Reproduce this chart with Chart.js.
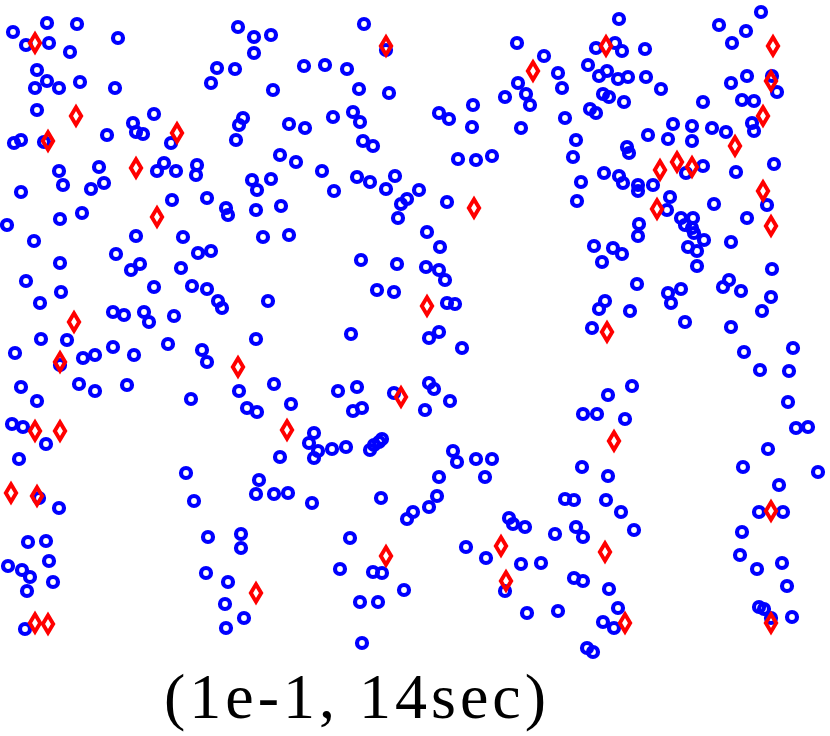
<!DOCTYPE html>
<html>
<head>
<meta charset="utf-8">
<script src="https://cdn.jsdelivr.net/npm/chart.js@4"></script>
<style>
  body { margin: 0; background: #fff; }
  #wrap { position: relative; width: 830px; height: 736px; }
  #caption {
    position: absolute; left: 357px; top: 665px; transform: translateX(-50%);
    font-family: "Liberation Serif", serif; font-size: 64px; line-height: 1;
    letter-spacing: 4px; white-space: nowrap; color: #000;
  }
</style>
</head>
<body>
<div id="wrap">
  <canvas id="chart"></canvas>
  <div id="caption">(1e-1, 14sec)</div>
</div>
<script>
// marker positions (x right, y down)
const circlePts = [
  [13,32],[47,23],[77,24],[26,45],[49,43],[118,38],[70,52],[37,70],[47,81],[35,88],[59,88],[80,82],[115,88],[37,110],[154,114],[133,123],[136,132],[143,134],[21,140],[14,143],[44,142],[107,135],[171,143],[59,171],[99,167],[63,185],[91,189],[104,183],[21,192],[157,171],[164,163],[176,171],[197,165],[196,175],[172,200],[207,198],[60,219],[82,213],[7,225],
  [238,27],[254,37],[271,35],[254,53],[217,68],[235,69],[211,83],[273,90],[304,66],[325,65],[347,69],[364,24],[386,50],[359,89],[389,93],[243,118],[239,125],[236,140],[289,124],[305,128],[333,117],[353,112],[360,122],[363,141],[373,146],[280,155],[296,162],[322,171],[252,180],[271,179],[257,190],[357,177],[370,182],[395,176],[386,189],[334,191],[407,199],[401,204],[419,190],[226,208],[228,215],[256,210],[281,206],[398,218],
  [517,43],[544,56],[596,48],[588,65],[599,76],[607,71],[558,73],[562,88],[518,83],[526,94],[530,105],[505,97],[473,105],[439,113],[449,119],[472,127],[521,128],[565,118],[603,94],[609,97],[590,109],[596,113],[576,140],[573,157],[458,159],[476,160],[492,156],[604,173],[581,182],[577,201],[447,202],
  [761,12],[719,25],[746,31],[732,43],[619,19],[622,51],[615,43],[645,49],[618,79],[628,77],[646,77],[661,89],[624,102],[731,83],[747,76],[772,76],[777,92],[742,100],[754,101],[703,102],[752,123],[754,131],[673,124],[692,126],[712,128],[726,132],[648,135],[668,139],[692,141],[627,147],[629,153],[703,166],[686,173],[736,172],[774,164],[619,176],[623,183],[638,185],[638,191],[653,185],[670,197],[667,210],[714,204],[767,205],[681,218],[693,218],[747,218],[639,224],
  [34,241],[60,263],[26,281],[61,292],[40,303],[136,236],[183,237],[198,253],[211,251],[116,254],[140,264],[131,270],[181,268],[154,287],[192,286],[207,289],[113,312],[124,315],[144,312],[149,322],[174,316],[41,339],[67,340],[15,353],[83,358],[95,355],[113,347],[134,355],[168,344],[202,350],[207,362],[60,365],[21,387],[37,401],[79,384],[95,391],[127,385],[191,399],[12,424],[23,427],
  [263,237],[289,235],[361,260],[397,264],[218,301],[222,308],[268,301],[377,290],[394,292],[351,334],[256,339],[239,391],[274,384],[247,408],[257,412],[291,404],[338,391],[357,387],[394,393],[353,411],[362,408],[314,433],
  [427,232],[440,247],[426,267],[439,270],[445,280],[447,303],[455,304],[429,338],[439,332],[462,348],[429,383],[434,389],[450,401],[425,410],[594,246],[613,248],[602,262],[605,301],[599,309],[592,328],[608,395],[583,414],[597,414],
  [685,225],[692,228],[694,233],[704,240],[688,247],[697,251],[697,266],[638,236],[622,254],[731,242],[772,269],[771,297],[762,311],[729,280],[723,287],[741,291],[637,284],[668,293],[681,289],[671,303],[630,311],[685,322],[731,327],[793,348],[744,352],[760,370],[789,371],[788,402],[796,428],[808,427],[632,386],[625,419],
  [46,444],[19,459],[39,498],[59,508],[28,542],[46,541],[49,561],[8,566],[22,570],[30,577],[53,582],[27,591],[25,629],[186,473],[194,501],[208,537],[206,573],
  [309,443],[318,451],[314,458],[332,449],[346,447],[280,457],[370,450],[374,445],[379,442],[382,439],[259,480],[256,494],[274,494],[288,493],[312,503],[381,498],[407,519],[413,512],[241,534],[241,548],[350,538],[228,582],[225,604],[244,618],[226,628],[340,569],[373,572],[382,573],[404,590],[360,602],[378,602],[362,643],
  [453,451],[457,462],[476,459],[492,459],[485,477],[439,477],[437,496],[429,507],[509,518],[513,524],[525,527],[466,547],[486,558],[521,564],[541,563],[505,591],[527,613],[558,611],[582,467],[608,476],[565,499],[574,500],[606,500],[555,534],[576,527],[583,537],[574,578],[583,581],[609,589],[618,608],[603,622],[614,628],[587,648],[593,652],
  [768,449],[743,467],[818,472],[779,485],[759,512],[783,512],[742,532],[740,555],[757,569],[782,563],[787,586],[759,607],[764,609],[771,618],[792,617],[634,530],[621,512]
];

const diamondPts = [
  [35,43],[76,116],[48,141],[177,133],[136,168],[157,217],[386,46],[533,71],[606,46],[474,208],
  [773,46],[771,81],[763,116],[735,146],[677,162],[692,167],[660,170],[763,191],[657,209],[771,226],
  [74,322],[60,362],[35,431],[60,431],[238,367],[401,397],[287,430],[427,306],[607,332],[614,441],
  [11,493],[37,496],[35,623],[48,624],[386,556],[256,593],[501,546],[506,581],[605,552],[625,623],
  [771,511],[771,623]
];

// tall thin diamond marker, like the matlab 'd'
function makeDiamond() {
  const c = document.createElement("canvas");
  c.width = 20; c.height = 26;
  const g = c.getContext("2d");
  g.strokeStyle = "#ff0000";
  g.lineWidth = 3.9;
  g.lineJoin = "miter";
  g.beginPath();
  g.moveTo(10, 4.3);
  g.lineTo(15.2, 13);
  g.lineTo(10, 21.7);
  g.lineTo(4.8, 13);
  g.closePath();
  g.stroke();
  return c;
}

const toXY = p => ({ x: p[0], y: p[1] });

new Chart(document.getElementById("chart"), {
  type: "scatter",
  data: {
    datasets: [
      {
        label: "diamonds",
        data: diamondPts.map(toXY),
        pointStyle: makeDiamond(),
        order: 0,
        clip: false
      },
      {
        label: "circles",
        data: circlePts.map(toXY),
        pointStyle: "circle",
        pointRadius: 5,
        pointBorderWidth: 4.2,
        pointBorderColor: "#0000ff",
        pointBackgroundColor: "rgba(0,0,0,0)",
        order: 1,
        clip: false
      }
    ]
  },
  options: {
    responsive: true,
    maintainAspectRatio: false,
    animation: false,
    layout: { padding: 0, autoPadding: false },
    plugins: { legend: { display: false }, tooltip: { enabled: false } },
    scales: {
      x: { type: "linear", min: 0, max: 830, display: false },
      y: { type: "linear", min: 0, max: 736, reverse: true, display: false }
    }
  }
});
</script>
</body>
</html>
